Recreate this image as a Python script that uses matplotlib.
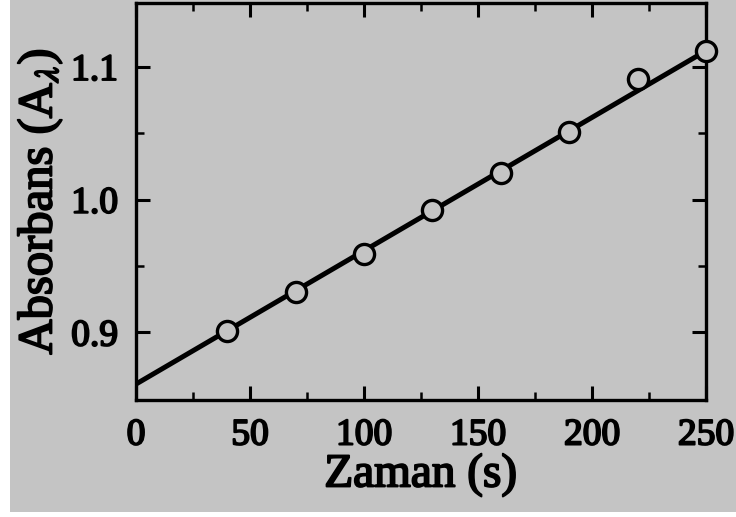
import matplotlib
matplotlib.use("Agg")
import matplotlib.pyplot as plt
import matplotlib.patheffects as pe
from matplotlib.patches import Rectangle

# data
time_s = [40, 70, 100, 130, 160, 190, 220, 250]
absorbance = [0.901, 0.930, 0.959, 0.992, 1.020, 1.051, 1.091, 1.112]
fit_time = [0, 250]
fit_abs = [0.861, 1.112]
x_ticks = [0, 50, 100, 150, 200, 250]
y_ticks = [0.9, 1.0, 1.1]

plt.rcParams['font.family'] = ['Liberation Serif', 'DejaVu Serif']
plt.rcParams['mathtext.fontset'] = 'stix'

bg = '#c4c4c4'
fig = plt.figure(figsize=(7.36, 5.17), dpi=100, facecolor='white')
fig.patches.append(Rectangle((10/736, 5/517), 1, 1, transform=fig.transFigure,
                             facecolor=bg, edgecolor='none', zorder=-10))

ax = fig.add_axes([136/736, 1 - 400/517, (706 - 136)/736, (400 - 3)/517])
ax.set_facecolor(bg)

ax.plot(fit_time, fit_abs, color='black', lw=3.6, solid_capstyle='butt', zorder=2)
ax.plot(time_s, absorbance, linestyle='none', marker='o', ms=14.5,
        mfc=bg, mec='black', mew=2.4, zorder=3, clip_on=False)

ax.set_xlim(0, 250)
ax.set_ylim(0.849, 1.148)
ax.set_xticks(x_ticks)
ax.set_xticks([25, 75, 125, 175, 225], minor=True)
ax.set_yticks(y_ticks)
ax.set_yticks([0.95, 1.05], minor=True)
ax.set_xticklabels([str(v) for v in x_ticks])
ax.set_yticklabels([f"{v:.1f}" for v in y_ticks])

for s in ax.spines.values():
    s.set_linewidth(2.4)
ax.tick_params(which='major', direction='in', length=10, width=2.2,
               top=True, right=True, labelsize=27)
ax.tick_params(which='minor', direction='in', length=6, width=1.8,
               top=True, right=True)
ax.tick_params(axis='x', pad=13)
ax.tick_params(axis='y', pad=13)

stroke = [pe.withStroke(linewidth=1.4, foreground='black')]
for lab in ax.get_xticklabels() + ax.get_yticklabels():
    lab.set_path_effects(stroke)

xl = ax.set_xlabel('Zaman (s)', fontsize=34, labelpad=1)
yl = ax.set_ylabel(r'Absorbans (A$_\lambda$)', fontsize=35, labelpad=5)
xl.set_path_effects(stroke)
yl.set_path_effects(stroke)

fig.savefig('out.png', dpi=100, facecolor=fig.get_facecolor())
